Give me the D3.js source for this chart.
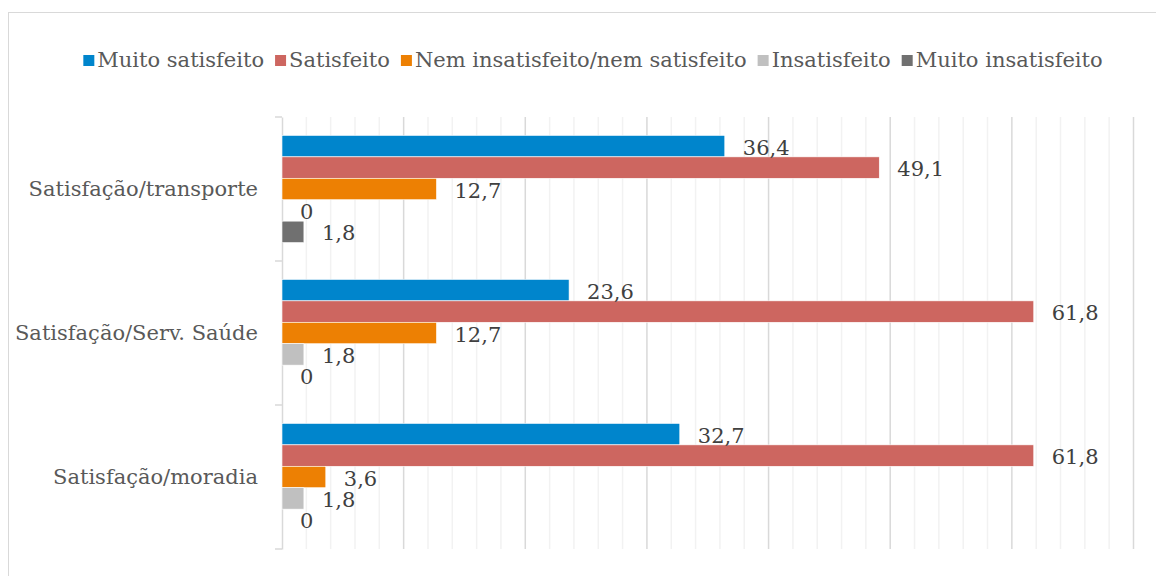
<!DOCTYPE html>
<html lang="pt">
  <head>
    <meta charset="UTF-8" />
    <title>Satisfação</title>
    <script src="https://cdn.jsdelivr.net/npm/d3@7"></script>
    <style>
      body { margin: 0; background: #fff; }
      text { font-family: "DejaVu Serif", serif; }
    </style>
  </head>
  <body>
    <svg id="container" width="1156" height="576"></svg>
    <script>
      // data
      let categories = ["Satisfação/transporte", "Satisfação/Serv. Saúde", "Satisfação/moradia"];
      let series = ["Muito satisfeito", "Satisfeito", "Nem insatisfeito/nem satisfeito", "Insatisfeito", "Muito insatisfeito"];
      let muitoSatisfeito = [36.4, 23.6, 32.7];
      let satisfeito = [49.1, 61.8, 61.8];
      let nemNem = [12.7, 12.7, 3.6];
      let insatisfeito = [0, 1.8, 1.8];
      let muitoInsatisfeito = [1.8, 0, 0];
      let colors = ["#0085cc", "#cd6660", "#ed8003", "#c0c0c0", "#707070"];

      let values = [muitoSatisfeito, satisfeito, nemNem, insatisfeito, muitoInsatisfeito];
      let rows = [];
      categories.forEach((c, i) => {
        series.forEach((s, j) => {
          rows.push({ cat: c, ser: s, idx: j, value: values[j][i] });
        });
      });

      let svg = d3.select("#container");
      let fontSize = 21;

      // chart frame (cut off on the right and bottom like the picture)
      svg.append("rect")
        .attr("x", 8.5).attr("y", 12.5)
        .attr("width", 1300).attr("height", 700)
        .attr("fill", "none").attr("stroke", "#d9d9d9");

      let x = d3.scaleLinear().domain([0, 70]).range([282, 1133.5]);
      let y = d3.scaleBand().domain(categories).range([117, 549]);
      let y1 = d3.scaleBand().domain(series).range([0, y.bandwidth()]).paddingOuter(0.86);

      // gridlines: minor every 2, major every 10
      let grid = svg.append("g");
      grid.selectAll("line.minor")
        .data(d3.range(2, 71, 2).filter((d) => d % 10 !== 0))
        .enter().append("line")
        .attr("x1", (d) => x(d)).attr("x2", (d) => x(d))
        .attr("y1", 117).attr("y2", 549)
        .attr("stroke", "#f2f2f2").attr("stroke-width", 1.5);
      grid.selectAll("line.major")
        .data(d3.range(10, 71, 10))
        .enter().append("line")
        .attr("x1", (d) => x(d)).attr("x2", (d) => x(d))
        .attr("y1", 117).attr("y2", 549)
        .attr("stroke", "#d9d9d9").attr("stroke-width", 1.5);

      // category axis
      let yAxis = d3.axisLeft(y).tickSize(0).tickPadding(24);
      let ax = svg.append("g").attr("transform", "translate(282,0)").call(yAxis);
      ax.select(".domain").attr("stroke", "#d9d9d9").attr("stroke-width", 1.5);
      ax.selectAll("text")
        .attr("font-size", fontSize).attr("fill", "#595959")
        .attr("font-family", "DejaVu Serif");
      ax.selectAll("line.edge")
        .data([117].concat(categories.map((c) => y(c) + y.bandwidth())))
        .enter().append("line")
        .attr("x1", -7).attr("x2", 0)
        .attr("y1", (d) => d).attr("y2", (d) => d)
        .attr("stroke", "#d9d9d9").attr("stroke-width", 1.5);

      // bars
      svg.append("g").selectAll("rect")
        .data(rows)
        .enter().append("rect")
        .attr("x", x(0))
        .attr("y", (d) => y(d.cat) + y1(d.ser))
        .attr("width", (d) => x(d.value) - x(0))
        .attr("height", y1.bandwidth())
        .attr("fill", (d) => colors[d.idx])
        .attr("stroke", "#fff").attr("stroke-width", 0.6);

      // value labels
      svg.append("g").selectAll("text")
        .data(rows)
        .enter().append("text")
        .attr("x", (d) => x(d.value) + 18)
        .attr("y", (d) => y(d.cat) + y1(d.ser) + y1.bandwidth() / 2 + 3)
        .attr("dominant-baseline", "middle")
        .attr("font-size", fontSize).attr("fill", "#404040")
        .text((d) => String(d.value).replace(".", ","));

      // legend
      let legend = svg.append("g");
      let lx = 0;
      let gap = 11;
      series.forEach((s, i) => {
        let item = legend.append("g").attr("transform", `translate(${lx},0)`);
        item.append("rect")
          .attr("x", 0).attr("y", -6).attr("width", 11).attr("height", 11)
          .attr("fill", colors[i]);
        let t = item.append("text")
          .attr("x", 14).attr("y", 0)
          .attr("dominant-baseline", "middle")
          .attr("font-size", fontSize).attr("fill", "#595959")
          .text(s);
        lx += 14 + t.node().getComputedTextLength() + gap;
      });
      let legendWidth = lx - gap;
      legend.attr("transform", `translate(${593 - legendWidth / 2},61)`);
    </script>
  </body>
</html>
